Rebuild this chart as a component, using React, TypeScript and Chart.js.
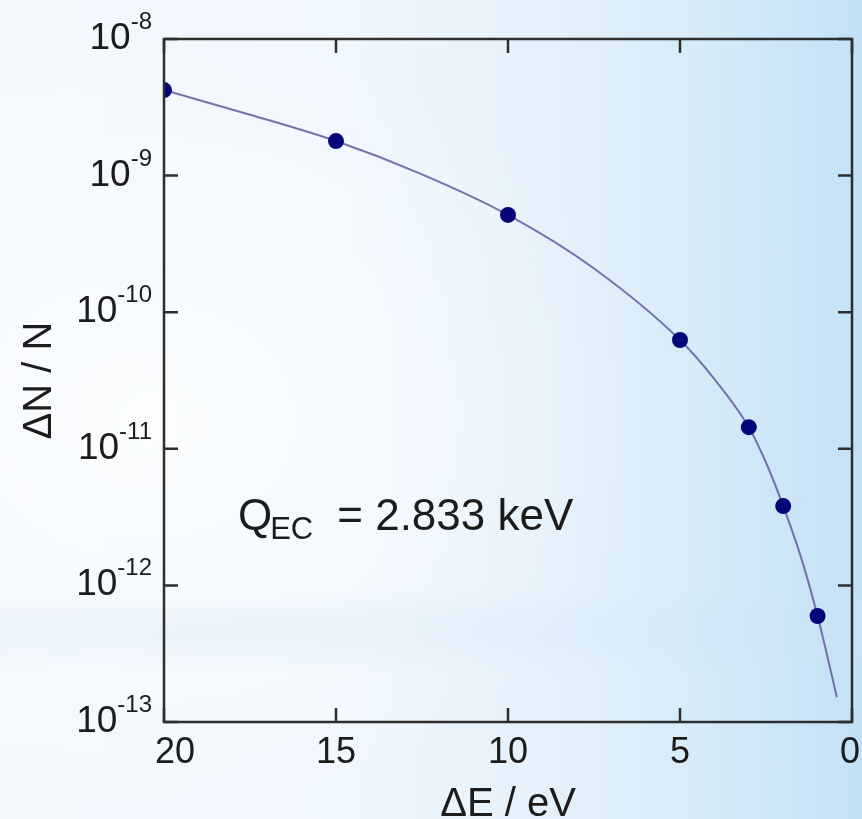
import React, { useEffect, useRef } from "react";
import { Chart, registerables } from "chart.js";

Chart.register(...registerables);

// Measured fraction of events within ΔE of the endpoint
const measuredDeltaE = [20, 15, 10, 5, 3, 2, 1];
const measuredFraction = [4.23e-9, 1.79e-9, 5.15e-10, 6.26e-11, 1.44e-11, 3.81e-12, 5.97e-13];

// Calculated curve through the points
const curveDeltaE = [20, 17.5, 15, 12.5, 10, 7.5, 5, 4, 3, 2.5, 2, 1.5, 1, 0.44];
const curveFraction = [
  4.23e-9, 2.79e-9, 1.79e-9, 1.02e-9, 5.15e-10, 2.09e-10, 6.26e-11, 3.24e-11, 1.44e-11,
  7.94e-12, 3.81e-12, 1.66e-12, 5.97e-13, 1.52e-13,
];

const xTickValues = [20, 15, 10, 5, 0];
const xTickLabels = ["20", "15", "10", "5", "0"];
const yTickExponents = [-8, -9, -10, -11, -12, -13];

const annotationMain = "Q";
const annotationSub = "EC";
const annotationRest = "= 2.833 keV";
const annotationAt = { x: 17.85, y: 2.55e-12 };

const xTitle = "ΔE / eV";
const yTitle = "ΔN / N";

const FONT = "'Liberation Sans', Arial, Helvetica, sans-serif";
const INK = "#1c1c1c";
const FRAME = "#2e2e2e";

const framePlugin = {
  id: "frameAndLabels",
  afterDraw(chart: any) {
    const { ctx, chartArea: a, scales } = chart;
    const xs = scales.x;
    const ys = scales.y;
    ctx.save();

    // box frame
    ctx.strokeStyle = FRAME;
    ctx.lineWidth = 2.5;
    ctx.strokeRect(a.left, a.top, a.right - a.left, a.bottom - a.top);

    // inward ticks on all four sides
    const tl = 14;
    ctx.beginPath();
    xTickValues.forEach((v) => {
      const px = xs.getPixelForValue(v);
      ctx.moveTo(px, a.bottom);
      ctx.lineTo(px, a.bottom - tl);
      ctx.moveTo(px, a.top);
      ctx.lineTo(px, a.top + tl);
    });
    yTickExponents.forEach((e) => {
      const py = ys.getPixelForValue(Math.pow(10, e));
      ctx.moveTo(a.left, py);
      ctx.lineTo(a.left + tl, py);
      ctx.moveTo(a.right, py);
      ctx.lineTo(a.right - tl, py);
    });
    ctx.stroke();

    ctx.fillStyle = INK;
    ctx.textBaseline = "alphabetic";

    // x tick labels
    ctx.font = `36px ${FONT}`;
    xTickValues.forEach((v, i) => {
      const px = xs.getPixelForValue(v);
      if (i === 0) {
        ctx.textAlign = "left";
        ctx.fillText(xTickLabels[i], px - 9, a.bottom + 41);
      } else if (i === xTickValues.length - 1) {
        ctx.textAlign = "center";
        ctx.fillText(xTickLabels[i], px - 2, a.bottom + 41);
      } else {
        ctx.textAlign = "center";
        ctx.fillText(xTickLabels[i], px, a.bottom + 41);
      }
    });

    // y tick labels: 10 with superscript exponent
    const rightEdge = a.left - 12;
    yTickExponents.forEach((e) => {
      const py = ys.getPixelForValue(Math.pow(10, e));
      const sup = String(e);
      ctx.font = `24px ${FONT}`;
      ctx.textAlign = "right";
      const supW = ctx.measureText(sup).width;
      ctx.fillText(sup, rightEdge, py - 10);
      ctx.font = `37px ${FONT}`;
      ctx.fillText("10", rightEdge - supW, py + 10);
    });

    // axis titles
    ctx.font = `40px ${FONT}`;
    ctx.textAlign = "center";
    ctx.fillText(xTitle, (a.left + a.right) / 2, 816);

    ctx.save();
    ctx.translate(51, (a.top + a.bottom) / 2);
    ctx.rotate(-Math.PI / 2);
    ctx.fillText(yTitle, 0, 0);
    ctx.restore();

    // Q_EC annotation
    const ax = xs.getPixelForValue(annotationAt.x);
    const ay = ys.getPixelForValue(annotationAt.y);
    ctx.textAlign = "left";
    ctx.font = `44px ${FONT}`;
    ctx.fillText(annotationMain, ax, ay);
    const qW = ctx.measureText(annotationMain).width;
    ctx.font = `31px ${FONT}`;
    ctx.fillText(annotationSub, ax + qW - 2, ay + 9);
    const subW = ctx.measureText(annotationSub).width;
    ctx.font = `44px ${FONT}`;
    ctx.fillText(annotationRest, ax + qW + subW + 22, ay);

    ctx.restore();
  },
};

export default function App() {
  const canvasRef = useRef<HTMLCanvasElement | null>(null);

  useEffect(() => {
    document.body.style.margin = "0";
    const canvas = canvasRef.current;
    if (!canvas) return;

    const points = measuredDeltaE.map((x, i) => ({ x, y: measuredFraction[i] }));
    const curve = curveDeltaE.map((x, i) => ({ x, y: curveFraction[i] }));

    const chart = new Chart(canvas, {
      type: "scatter",
      data: {
        datasets: [
          {
            label: "measured",
            data: points,
            showLine: false,
            pointRadius: 8,
            pointHoverRadius: 8,
            pointBackgroundColor: "#05057a",
            pointBorderColor: "#05057a",
            pointBorderWidth: 0,
          },
          {
            label: "calculated",
            data: curve,
            showLine: true,
            pointRadius: 0,
            borderColor: "rgba(105,100,160,0.9)",
            borderWidth: 2,
            cubicInterpolationMode: "monotone",
            fill: false,
          },
        ],
      },
      options: {
        animation: false,
        responsive: false,
        devicePixelRatio: 1,
        layout: { padding: { top: 39, right: 10, left: 0, bottom: 0 } },
        plugins: {
          legend: { display: false },
          tooltip: { enabled: false },
        },
        scales: {
          x: {
            type: "linear",
            reverse: true,
            min: 0,
            max: 20,
            grid: { display: false },
            border: { display: false },
            ticks: { display: false },
            afterFit: (s: any) => {
              s.height = 97;
            },
          },
          y: {
            type: "logarithmic",
            min: 1e-13,
            max: 1e-8,
            grid: { display: false },
            border: { display: false },
            ticks: { display: false },
            afterFit: (s: any) => {
              s.width = 164;
            },
          },
        },
      },
      plugins: [framePlugin],
    });

    return () => chart.destroy();
  }, []);

  const background = [
    "linear-gradient(180deg, rgba(255,255,255,0) 0px, rgba(255,255,255,0) 590px, rgba(205,228,246,0.22) 618px, rgba(205,228,246,0.22) 640px, rgba(255,255,255,0) 675px)",
    "radial-gradient(ellipse 500px 400px at 150px 420px, rgba(255,255,255,0.7), rgba(255,255,255,0))",
    "linear-gradient(90deg, #f3f8fd 0%, #f0f7fd 40%, #e4f1fb 65%, #d3e9f8 85%, #c3e1f6 100%)",
  ].join(", ");

  return (
    <div style={{ width: 862, height: 819, position: "relative", background }}>
      <canvas ref={canvasRef} width={862} height={819} style={{ display: "block" }} />
    </div>
  );
}
